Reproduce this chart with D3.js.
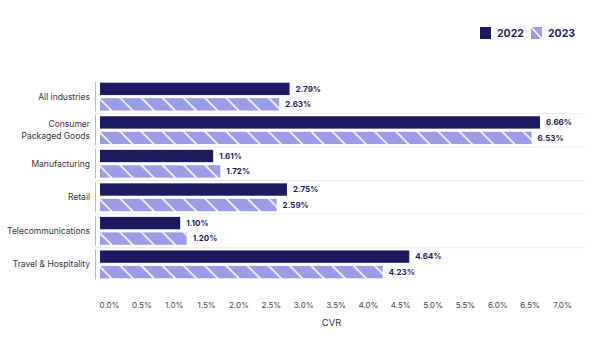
<!DOCTYPE html>
<html><head><meta charset="utf-8">
<script src="https://cdn.jsdelivr.net/npm/d3@7"></script>
<style>body{margin:0;background:#fff}svg{display:block;font-family:Inter,"Noto Sans",sans-serif}</style>
</head><body>
<svg id="c" width="600" height="356"></svg>
<script>
const categories = ["All industries", "Consumer\nPackaged Goods", "Manufacturing", "Retail", "Telecommunications", "Travel & Hospitality"];
const series = ["2022", "2023"];
const values2022 = [2.79, 6.66, 1.61, 2.75, 1.10, 4.64];
const values2023 = [2.63, 6.53, 1.72, 2.59, 1.20, 4.23];
const tickValues = [0, 0.5, 1, 1.5, 2, 2.5, 3, 3.5, 4, 4.5, 5, 5.5, 6, 6.5, 7];
const axisTitle = "CVR";

const navy = "#1e1a5f", lilac = "#9c9ce6";
const svg = d3.select("#c");
const defs = svg.append("defs");
const pat = defs.append("pattern").attr("id", "hatch").attr("patternUnits", "userSpaceOnUse")
  .attr("width", 15).attr("height", 15).attr("patternTransform", "rotate(45)");
pat.append("rect").attr("width", 15).attr("height", 15).attr("fill", lilac);
pat.append("rect").attr("x", 0).attr("y", 0).attr("width", 15).attr("height", 1.6).attr("fill", "#fff");

const x = d3.scaleLinear().domain([0, 7]).range([109, 562]);
const y = d3.scaleBand().domain(categories).range([80, 281]).paddingInner(0.17).paddingOuter(0.08);
const sub = d3.scaleBand().domain(series).range([0, y.bandwidth()]).paddingInner(0.2);
const barStart = x(0) - 9;

// group separators
const step = y.step();
categories.forEach((c, i) => {
  if (i > 0) {
    svg.append("line").attr("x1", 95).attr("x2", 585)
      .attr("y1", y(c) - (step - y.bandwidth()) / 2).attr("y2", y(c) - (step - y.bandwidth()) / 2)
      .attr("stroke", "#ececf2").attr("stroke-width", 1);
  }
  svg.append("line").attr("x1", 95.5).attr("x2", 95.5)
    .attr("y1", y(c) - 1).attr("y2", y(c) + y.bandwidth() + 1)
    .attr("stroke", "#b8b8c4").attr("stroke-width", 1);
});

const data = categories.map((c, i) => ({c, v: [values2022[i], values2023[i]]}));
const g = svg.selectAll("g.grp").data(data).join("g").attr("class", "grp")
  .attr("transform", d => `translate(0,${y(d.c)})`);
g.selectAll("rect").data(d => d.v.map((v, j) => ({s: series[j], v})))
  .join("rect")
  .attr("x", barStart).attr("y", d => sub(d.s))
  .attr("width", d => x(d.v) - barStart).attr("height", sub.bandwidth())
  .attr("fill", d => d.s === "2022" ? navy : "url(#hatch)");
g.selectAll("text.val").data(d => d.v.map((v, j) => ({s: series[j], v})))
  .join("text").attr("class", "val")
  .attr("x", d => x(d.v) + 6).attr("y", d => sub(d.s) + sub.bandwidth() / 2)
  .attr("dy", "0.35em").attr("font-size", 8).attr("font-weight", 700).attr("fill", navy)
  .text(d => d.v.toFixed(2) + "%");

// category labels
data.forEach(d => {
  const lines = d.c.split("\n");
  const t = svg.append("text").attr("text-anchor", "end").attr("font-size", 8.5).attr("fill", "#333340");
  lines.forEach((l, k) => {
    t.append("tspan").attr("x", 90)
      .attr("y", y(d.c) + y.bandwidth() / 2 + (k - (lines.length - 1) / 2) * 12)
      .attr("dy", "0.35em").text(l);
  });
});

// x axis
const ax = svg.append("g").attr("transform", "translate(0,294)")
  .call(d3.axisBottom(x).tickValues(tickValues).tickFormat(d => d.toFixed(1) + "%").tickSize(0).tickPadding(8));
ax.select(".domain").remove();
ax.selectAll("text").attr("font-size", 8).attr("fill", "#444450").attr("font-family", "Inter,'Noto Sans',sans-serif");
svg.append("text").attr("x", (x(0) + x(7)) / 2 - 4).attr("y", 326).attr("text-anchor", "middle")
  .attr("font-size", 9.5).attr("fill", "#333340").text(axisTitle);

// legend
const leg = svg.append("g").attr("transform", "translate(480,27)");
series.forEach((s, i) => {
  const lg = leg.append("g").attr("transform", `translate(${i * 51},0)`);
  lg.append("rect").attr("width", 11).attr("height", 12).attr("fill", s === "2022" ? navy : lilac);
  if (s === "2023") lg.append("line").attr("x1", 0).attr("y1", 0).attr("x2", 11).attr("y2", 12).attr("stroke", "#fff").attr("stroke-width", 1.5);
  lg.append("text").attr("x", 17).attr("y", 6).attr("dy", "0.35em").attr("font-size", 10.5)
    .attr("font-weight", 700).attr("fill", navy).text(s);
});
</script>
</body></html>
